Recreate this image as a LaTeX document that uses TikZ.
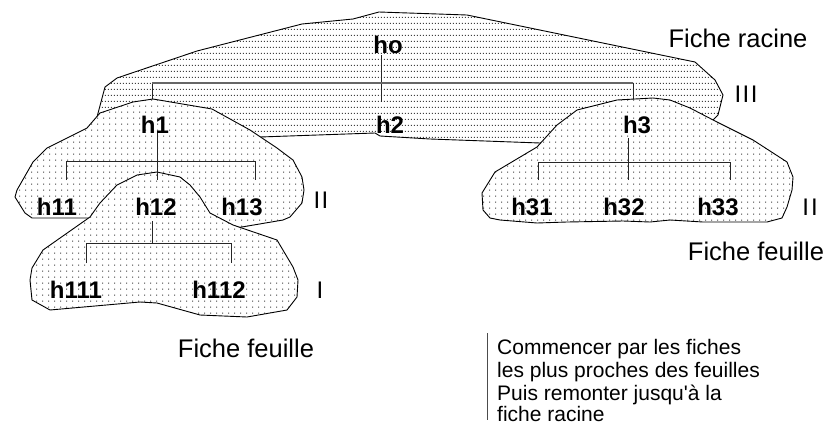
\documentclass[tikz,border=0pt]{standalone}
\usepackage{fontspec}
\setmainfont{Liberation Sans}[Ligatures=TeXOff]
\usetikzlibrary{patterns}
\pgfdeclarepatternformonly{rowdots}{\pgfqpoint{0pt}{0pt}}{\pgfqpoint{2.8pt}{5.6pt}}{\pgfqpoint{2.8pt}{5.6pt}}{\pgfpathrectangle{\pgfqpoint{0.9pt}{2.3pt}}{\pgfqpoint{1pt}{1pt}}\pgfusepath{fill}}
\pgfdeclarepatternformonly{griddots}{\pgfqpoint{0pt}{0pt}}{\pgfqpoint{5.6pt}{5.8pt}}{\pgfqpoint{5.6pt}{5.8pt}}{\pgfpathrectangle{\pgfqpoint{2.3pt}{2.4pt}}{\pgfqpoint{1pt}{1pt}}\pgfusepath{fill}}
\tikzset{
  blob/.style={draw=black, line width=0.9pt, line join=round, preaction={fill=white}},
  rootblob/.style={blob, pattern=rowdots, pattern color=black!75},
  leafblob/.style={blob, pattern=griddots, pattern color=black!75},
  tree/.style={draw=black!85, line width=1pt},
  bus/.style={draw=black!60, line width=1.4pt},
  lab/.style={font=\fontsize{24}{24}\selectfont\bfseries, inner sep=0pt, anchor=base},
  lvl/.style={font=\fontsize{24}{24}\selectfont, inner sep=0pt, anchor=base},
  captext/.style={font=\fontsize{25.5}{26}\selectfont, inner sep=0pt, anchor=base},
  notetext/.style={font=\fontsize{21}{23}\selectfont, inner sep=0pt, anchor=base west},
}
\begin{document}
\begin{tikzpicture}[x=1pt, y=-1pt]
\useasboundingbox (0,0) rectangle (837,426);
% root page (III)
\path[rootblob] (97,117) -- (105,87) -- (117,78) -- (197,51) -- (302,24) -- (353,19) -- (379,12) -- (467,15) -- (695,62) -- (715,80) -- (723,95) -- (718,115) -- (713,120) -- (650,125) -- (540,143) -- (430,139) -- (380,136) -- (375,133) -- (260,137) -- (150,115) -- cycle;
% root tree
\coordinate (hoS) at (381,55);
\coordinate (h2N) at (381,102);
\coordinate (b0L) at (152,83);
\coordinate (b0R) at (633,83);
\coordinate (h1N) at (152,104);
\coordinate (h3N) at (633,104);
\draw[tree] (hoS) -- (h2N);
\draw[tree] (b0L) -- (h1N);
\draw[tree] (b0R) -- (h3N);
\draw[bus] (b0L) -- (b0R);
% page h1 (II)
\path[leafblob] (153,99) -- (212,109) -- (250,130) -- (277,148) -- (293,160) -- (302,177) -- (304,190) -- (302,203) -- (290,217) -- (283,220) -- (236,228) -- (150,205) -- (90,218) -- (32,218) -- (25,213) -- (15,197) -- (17,190) -- (33,162) -- (47,148) -- (87,128) -- (100,113) -- (133,102) -- cycle;
% page h3 (II)
\path[leafblob] (577,110) -- (617,100) -- (653,98) -- (670,100) -- (690,108) -- (717,122) -- (753,140) -- (787,162) -- (793,177) -- (792,190) -- (787,207) -- (782,218) -- (767,222) -- (703,222) -- (670,220) -- (650,222) -- (623,221) -- (567,222) -- (537,223) -- (500,220) -- (490,218) -- (483,210) -- (482,193) -- (495,172) -- (537,147) -- (557,125) -- cycle;
% page h12 (I)
\path[leafblob] (90,217) -- (100,203) -- (117,185) -- (137,175) -- (157,172) -- (180,177) -- (190,185) -- (200,197) -- (210,213) -- (233,225) -- (277,240) -- (293,267) -- (298,280) -- (297,297) -- (287,310) -- (247,317) -- (200,315) -- (157,303) -- (140,302) -- (50,310) -- (32,300) -- (30,280) -- (32,268) -- (43,250) -- cycle;
% labels
\node[lab] (ho) at (388,53) {ho};
\node[lab] (h1) at (155,133) {h1};
\node[lab] (h2) at (390,133) {h2};
\node[lab] (h3) at (637,133) {h3};
\node[lab] (h11) at (57,215) {h11};
\node[lab] (h12) at (156,215) {h12};
\node[lab] (h13) at (242,215) {h13};
\node[lab] (h31) at (532,215) {h31};
\node[lab] (h32) at (624,215) {h32};
\node[lab] (h33) at (718,215) {h33};
\node[lab] (h111) at (76,298) {h111};
\node[lab] (h112) at (219,298) {h112};
% h1 tree
\coordinate (b1L) at (66,161);
\coordinate (b1M) at (157,161);
\coordinate (b1R) at (255,161);
\draw[tree] (h1.south -| b1M) -- (157,180);
\draw[tree] (66,180) -- (b1L) -- (b1R) -- (255,180);
% h12 tree
\coordinate (b2L) at (86,243);
\coordinate (b2M) at (152,243);
\coordinate (b2R) at (231,243);
\draw[tree] (152,221) -- (b2M);
\draw[tree] (86,263) -- (b2L) -- (b2R) -- (231,263);
% h3 tree
\coordinate (b3L) at (538,162);
\coordinate (b3M) at (628,162);
\coordinate (b3R) at (730,162);
\draw[tree] (628,138) -- (628,180);
\draw[tree] (538,180) -- (b3L) -- (b3R) -- (730,180);
% level marks
\node[lvl] (l3) at (746,102) {I\hspace{1.5pt}I\hspace{1.5pt}I};
\node[lvl] (l2a) at (321,208) {I\hspace{1.5pt}I};
\node[lvl] (l2b) at (810,215) {I\hspace{2pt}I};
\node[lvl] (l1) at (320,298) {I};
% captions
\node[captext] (fr) at (738,47) {Fiche racine};
\node[captext] (ff1) at (756,260) {Fiche feuille};
\node[captext] (ff2) at (246,357) {Fiche feuille};
% note
\coordinate (barT) at (487,333);
\coordinate (barB) at (487,420);
\draw[draw=black!70, line width=0.8pt] (barT) -- (barB);
\node[notetext] (n1) at (497,354) {Commencer par les fiches};
\node[notetext] (n2) at (497,377) {les plus proches des feuilles};
\node[notetext] (n3) at (497,400) {Puis remonter jusqu'à la};
\node[notetext] (n4) at (497,421) {fiche racine};
\end{tikzpicture}
\end{document}
